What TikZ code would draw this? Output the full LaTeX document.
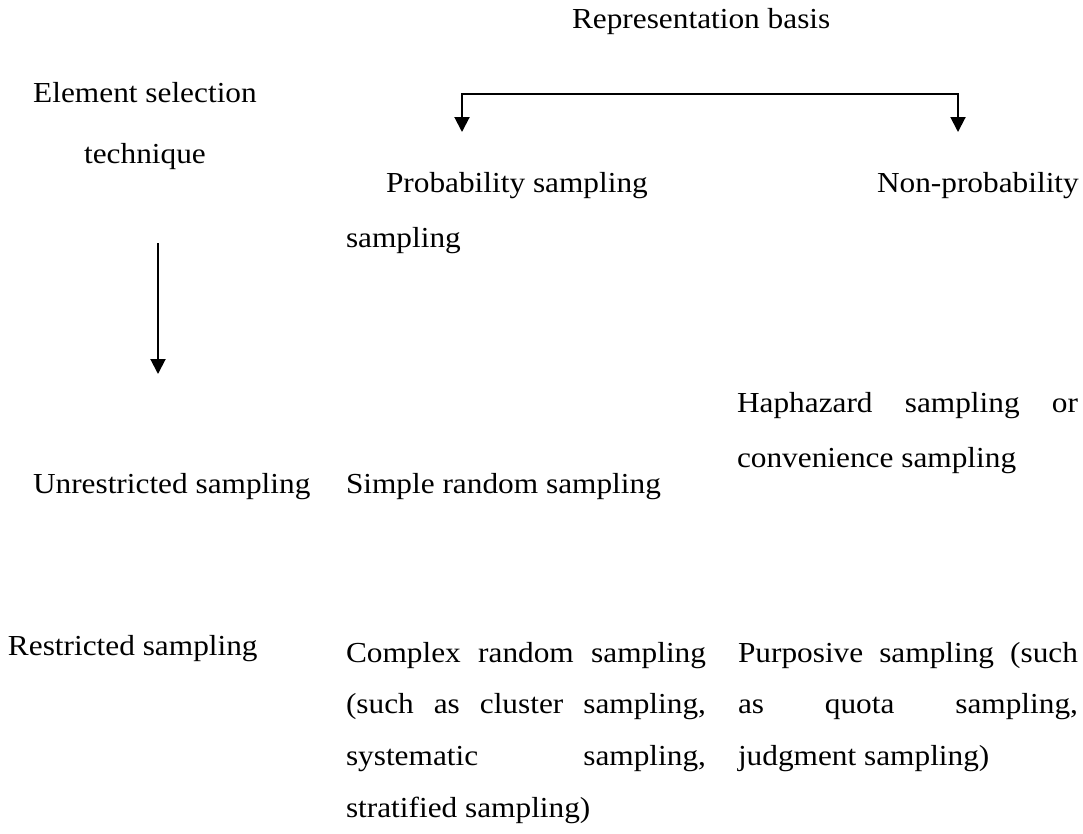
\documentclass[tikz,border=0pt]{standalone}
\usepackage{fontspec}
\setmainfont{Liberation Serif}[FakeStretch=1.08]
\usetikzlibrary{arrows.meta}
\begin{document}
\begin{tikzpicture}[x=1pt,y=-1pt,
  lbl/.style={inner sep=0pt,outer sep=0pt,anchor=base west,font=\fontsize{29}{40}\selectfont},
  ctr/.style={lbl,anchor=base},
  conn/.style={line width=2pt,-{Triangle[width=15pt,length=15pt]}}]
\useasboundingbox (0,0) rectangle (1083,833);

% column header and row header
\node[lbl] (rep) at (572,28) {Representation basis};
\node[ctr] (est1) at (145,102) {Element selection};
\node[ctr] (est2) at (145,163) {technique};

% bracket splitting the representation basis
\coordinate (bl) at (462,94);
\coordinate (br) at (958,94);
\coordinate (tl) at (462,132);
\coordinate (tr) at (958,132);
\draw[conn] (br) -- (bl) -- (tl);
\draw[conn] (bl) -- (br) -- (tr);

\node[lbl] (prob1) at (386,192) {Probability sampling};
\node[lbl] (prob2) at (346,247) {sampling};
\node[lbl] (nonprob) at (877,192) {Non-probability};

% element selection axis
\coordinate (va) at (158,243);
\coordinate (vb) at (158,374);
\draw[conn] (va) -- (vb);

\node[lbl] (hap1) at (737,412) {\makebox[341pt][s]{Haphazard sampling or}};
\node[lbl] (hap2) at (737,467) {convenience sampling};

\node[lbl] (unres) at (33,493) {Unrestricted sampling};
\node[lbl] (simple) at (346,493) {Simple random sampling};

\node[lbl] (res) at (8,655) {Restricted sampling};

\node[lbl] (cx1) at (346,662) {\makebox[360pt][s]{Complex random sampling}};
\node[lbl] (cx2) at (346,713) {\makebox[360pt][s]{(such as cluster sampling,}};
\node[lbl] (cx3) at (346,765) {\makebox[360pt][s]{systematic sampling,}};
\node[lbl] (cx4) at (346,817) {stratified sampling)};

\node[lbl] (pu1) at (738,662) {\makebox[340pt][s]{Purposive sampling (such}};
\node[lbl] (pu2) at (738,713) {\makebox[340pt][s]{as quota sampling,}};
\node[lbl] (pu3) at (738,765) {judgment sampling)};
\end{tikzpicture}
\end{document}
